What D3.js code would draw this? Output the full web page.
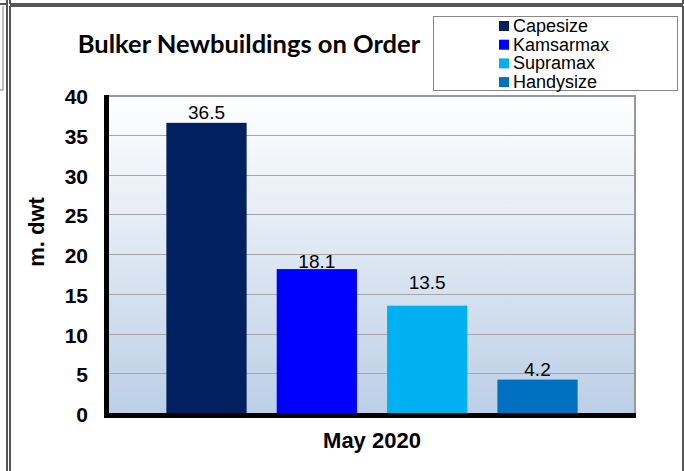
<!DOCTYPE html>
<meta charset="utf-8">
<style>
body { margin: 0; background: #fff; }
svg { display: block; font-family: Arial, "Liberation Sans", sans-serif; }
.frame { stroke: #555; stroke-width: 2px; fill: none; }
.grid line { stroke: #a6a6a6; stroke-width: 1px; }
.tick text { font-weight: bold; font-size: 21px; fill: #000; }
</style>
<body>
<svg width="684" height="471"></svg>
<script src="https://cdnjs.cloudflare.com/ajax/libs/d3/7.8.5/d3.min.js"></script>
<script>

// data
var categories = ["Capesize", "Kamsarmax", "Supramax", "Handysize"];
var values = [36.5, 18.1, 13.5, 4.2];
var colors = ["#002060", "#0000ff", "#00b0f0", "#0070c0"];
var yTicks = [0, 5, 10, 15, 20, 25, 30, 35, 40];
var period = "May 2020";

var svg = d3.select("svg");

// outer frames (excel sheet edges)
var frame = svg.append("g");
[[0,4,7,4],[10,4,683,4],[7,0,7,471],[10,0,10,4],[10,6,10,471],[10,6,683,6],[683,0,683,4],[683,6,683,471]]
  .forEach(function(l) {
    frame.append("line").attr("class", "frame")
      .attr("x1", l[0]).attr("y1", l[1]).attr("x2", l[2]).attr("y2", l[3]);
  });
frame.append("path").attr("d", "M3,6V90H0").attr("fill", "none").attr("stroke", "#aaa").attr("stroke-width", 1.5);

var plot = {left: 109, right: 635, top: 95, bottom: 413};

var x = d3.scaleBand().domain(categories).range([plot.left, plot.right])
  .paddingInner(0.2727).paddingOuter(0.52);
var y = d3.scaleLinear().domain([0, 40]).range([plot.bottom, plot.top]);

// background gradient
var grad = svg.append("defs").append("linearGradient")
  .attr("id", "bg").attr("x1", 0).attr("y1", 0).attr("x2", 0).attr("y2", 1);
grad.append("stop").attr("offset", "0%").attr("stop-color", "#ffffff");
grad.append("stop").attr("offset", "100%").attr("stop-color", "#bccfe6");

svg.append("rect")
  .attr("x", plot.left).attr("y", plot.top)
  .attr("width", plot.right - plot.left).attr("height", plot.bottom - plot.top)
  .attr("fill", "url(#bg)");

// gridlines
svg.append("g").attr("class", "grid")
  .selectAll("line").data(yTicks.slice(1, -1)).enter().append("line")
  .attr("x1", plot.left).attr("x2", plot.right)
  .attr("y1", function(d) { return Math.round(y(d)) + 0.5; })
  .attr("y2", function(d) { return Math.round(y(d)) + 0.5; });

// plot border: grey top/right, black left/bottom
svg.append("path")
  .attr("d", "M" + plot.left + "," + (plot.top + 1) + "H" + (plot.right) + "V" + plot.bottom)
  .attr("fill", "none").attr("stroke", "#999").attr("stroke-width", 2);

// bars
svg.selectAll(".bar").data(values).enter().append("rect")
  .attr("class", "bar")
  .attr("x", function(d, i) { return x(categories[i]); })
  .attr("width", x.bandwidth())
  .attr("y", function(d) { return y(d); })
  .attr("height", function(d) { return y(0) - y(d); })
  .attr("fill", function(d, i) { return colors[i]; });

svg.append("rect").attr("x", 104).attr("y", plot.top).attr("width", 5).attr("height", plot.bottom - plot.top + 5).attr("fill", "#000");
svg.append("rect").attr("x", 104).attr("y", plot.bottom).attr("width", plot.right - 104 + 1).attr("height", 5).attr("fill", "#000");

// value labels (manual nudges as in the original)
var labelLift = [4, 1, 17, 4];
svg.selectAll(".val").data(values).enter().append("text")
  .attr("class", "val")
  .attr("x", function(d, i) { return x(categories[i]) + x.bandwidth() / 2; })
  .attr("y", function(d, i) { return y(d) - labelLift[i]; })
  .attr("text-anchor", "middle")
  .attr("font-size", 19)
  .text(function(d) { return d.toFixed(1); });

// y axis labels
var yAxis = d3.axisLeft(y).tickValues(yTicks).tickSize(0).tickPadding(0);
var gy = svg.append("g").attr("transform", "translate(88,1)").call(yAxis);
gy.select(".domain").remove();
gy.selectAll("text").attr("dy", "0.36em");

svg.append("text")
  .attr("transform", "translate(44,232) rotate(-90)")
  .attr("text-anchor", "middle")
  .attr("font-weight", "bold").attr("font-size", 22)
  .text("m. dwt");

svg.append("text")
  .attr("x", (plot.left + plot.right) / 2).attr("y", 448)
  .attr("text-anchor", "middle")
  .attr("font-weight", "bold").attr("font-size", 22)
  .text(period);

// title
svg.append("text")
  .attr("x", 249).attr("y", 53)
  .attr("text-anchor", "middle")
  .attr("font-family", "Lato, 'Open Sans', sans-serif")
  .attr("font-weight", "bold").attr("font-size", 25.5)
  .text("Bulker Newbuildings on Order");

// legend
var legend = svg.append("g");
legend.append("rect").attr("x", 433.5).attr("y", 16.5).attr("width", 244).attr("height", 74)
  .attr("fill", "#fff").attr("stroke", "#888").attr("stroke-width", 1);
var items = legend.selectAll(".item").data(categories).enter().append("g")
  .attr("transform", function(d, i) { return "translate(499," + (25 + i * 18.7) + ")"; });
items.append("rect").attr("x", 0).attr("y", -4).attr("width", 10).attr("height", 10)
  .attr("fill", function(d, i) { return colors[i]; });
items.append("text").attr("x", 14).attr("y", 7).attr("font-size", 18).text(function(d) { return d; });

</script>
</body>
